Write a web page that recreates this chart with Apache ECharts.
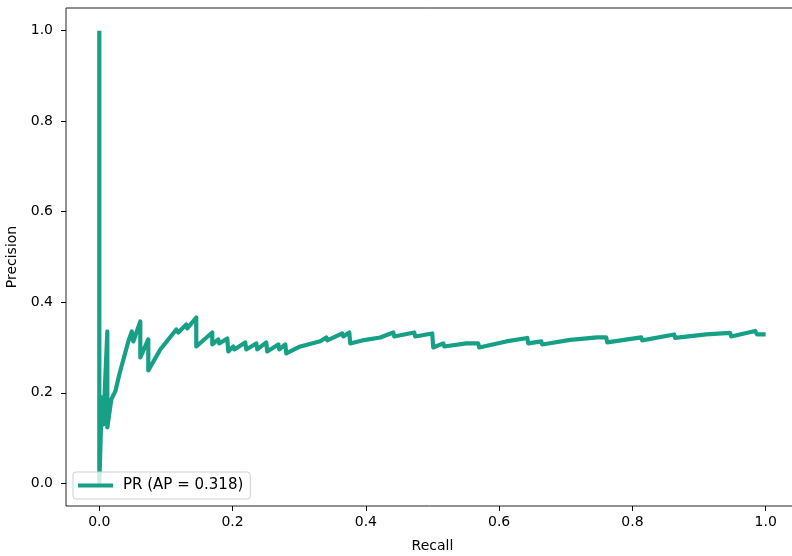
<!DOCTYPE html>
<html>
<head>
<meta charset="utf-8">
<script src="https://cdn.jsdelivr.net/npm/echarts@6/dist/echarts.min.js"></script>
<style>
  html, body { margin: 0; padding: 0; background: #fff; }
  #main { width: 792px; height: 556px; }
</style>
</head>
<body>
<div id="main"></div>
<script>
/* PR 曲线数据 */
var recall = [
  0, 0, 0.0038, 0.0060, 0.0120, 0.0120, 0.0180, 0.0240, 0.0300, 0.0435,
  0.0488, 0.0510, 0.0615, 0.0615, 0.0735, 0.0735, 0.0915, 0.1155, 0.1185, 0.1305,
  0.1320, 0.1455, 0.1455, 0.1695, 0.1695, 0.1785, 0.1800, 0.1920, 0.1935, 0.2010,
  0.2025, 0.2190, 0.2205, 0.2355, 0.2370, 0.2505, 0.2520, 0.2686, 0.2701, 0.2791,
  0.2806, 0.3016, 0.3316, 0.3406, 0.3421, 0.3646, 0.3661, 0.3751, 0.3766, 0.3946,
  0.3961, 0.4216, 0.4411, 0.4426, 0.4726, 0.4741, 0.4996, 0.5011, 0.5161, 0.5176,
  0.5506, 0.5686, 0.5701, 0.6106, 0.6422, 0.6437, 0.6632, 0.6647, 0.7067, 0.7472,
  0.7607, 0.7622, 0.8132, 0.8147, 0.8627, 0.8642, 0.9107, 0.9467, 0.9482, 0.9842,
  0.9872, 1.0
];
var precision = [
  1.0, 0.0, 0.190, 0.130, 0.3355, 0.1236, 0.1854, 0.2031, 0.2406, 0.3135,
  0.3355, 0.3135, 0.3576, 0.2781, 0.3179, 0.2494, 0.2958, 0.3400, 0.3333, 0.3510,
  0.3422, 0.3664, 0.3024, 0.3333, 0.3068, 0.3179, 0.3091, 0.3201, 0.2914, 0.3024,
  0.2958, 0.3113, 0.2958, 0.3091, 0.2958, 0.3113, 0.2914, 0.3068, 0.2958, 0.3068,
  0.2870, 0.3024, 0.3141, 0.3223, 0.3157, 0.3311, 0.3245, 0.3333, 0.3091, 0.3157,
  0.3113, 0.3223, 0.3333, 0.3245, 0.3333, 0.3245, 0.3311, 0.3002, 0.3091, 0.3024,
  0.3091, 0.3091, 0.3002, 0.3135, 0.3212, 0.3091, 0.3135, 0.3068, 0.3168, 0.3223,
  0.3223, 0.3113, 0.3223, 0.3157, 0.3289, 0.3212, 0.3289, 0.3322, 0.3245, 0.3366,
  0.3289, 0.3289
];
var tickValues = [0, 0.2, 0.4, 0.6, 0.8, 1.0];
var seriesName = 'PR (AP = 0.318)';

var lineColor = '#17a085';
var fontName = 'DejaVu Sans';

var prData = recall.map(function(r, i){
  return [r, precision[i]];
});

var chart = echarts.init(document.getElementById('main'), null, {renderer: 'canvas'});

function axisCommon(name, gap, margin){
  return {
    type: 'value',
    min: -0.05,
    max: 1.05,
    name: name,
    nameLocation: 'middle',
    nameGap: gap,
    nameTextStyle: { color: '#000', fontSize: 14, fontFamily: fontName },
    axisLine: { show: false, onZero: false },
    axisTick: {
      show: true,
      inside: false,
      length: 5,
      customValues: tickValues,
      lineStyle: { color: '#000', width: 1 }
    },
    axisLabel: {
      show: true,
      margin: margin,
      customValues: tickValues,
      color: '#000',
      fontSize: 14,
      fontFamily: fontName,
      formatter: function(v){ return v.toFixed(1); }
    },
    splitLine: { show: false }
  };
}

var option = {
  animation: false,
  backgroundColor: '#fff',
  grid: {
    left: 66,
    top: 8,
    width: 733,
    height: 498,
    containLabel: false,
    outerBoundsMode: 'none',
    show: true,
    borderColor: '#222',
    borderWidth: 1,
    backgroundColor: 'transparent'
  },
  xAxis: axisCommon('Recall', 33, 9),
  yAxis: axisCommon('Precision', 37, 13),
  legend: {
    left: 73,
    top: 472,
    orient: 'vertical',
    data: [seriesName],
    icon: 'rect',
    itemWidth: 35,
    itemHeight: 4,
    padding: [6, 7, 6, 5],
    borderColor: '#d0d0d0',
    borderWidth: 1,
    borderRadius: 3,
    backgroundColor: 'rgba(255,255,255,0.8)',
    textStyle: {
      color: '#000',
      fontSize: 15,
      fontFamily: fontName,
      padding: [0, 0, 0, 5]
    }
  },
  series: [{
    name: seriesName,
    type: 'line',
    data: prData,
    showSymbol: false,
    symbol: 'none',
    color: lineColor,
    lineStyle: { color: lineColor, width: 4.2, join: 'round', cap: 'butt' },
    itemStyle: { color: lineColor }
  }]
};
chart.setOption(option);
</script>
</body>
</html>
